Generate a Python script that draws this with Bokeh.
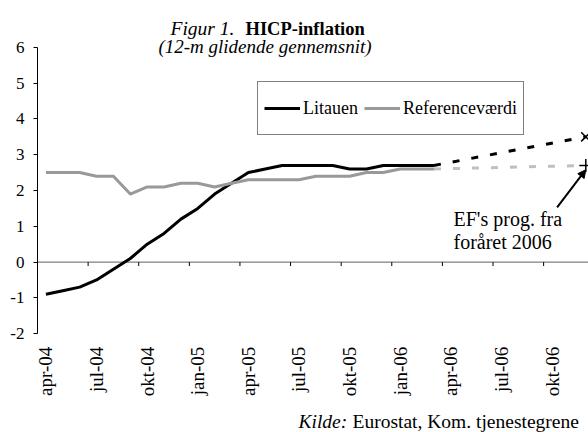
import math
from bokeh.plotting import figure
from bokeh.models import (Range1d, FixedTicker, CustomJSTickFormatter, Span, Legend,
                          LegendItem, Label, Arrow, NormalHead)
from bokeh.core.properties import value
from bokeh.embed import file_html
from bokeh.resources import INLINE

# ---------------- data ----------------
months = ["apr-04", "maj-04", "jun-04", "jul-04", "aug-04", "sep-04", "okt-04", "nov-04",
          "dec-04", "jan-05", "feb-05", "mar-05", "apr-05", "maj-05", "jun-05", "jul-05",
          "aug-05", "sep-05", "okt-05", "nov-05", "dec-05", "jan-06", "feb-06", "mar-06",
          "apr-06", "maj-06", "jun-06", "jul-06", "aug-06", "sep-06", "okt-06", "nov-06",
          "dec-06"]
litauen = [-0.9, -0.8, -0.7, -0.5, -0.2, 0.1, 0.5, 0.8, 1.2, 1.5, 1.9, 2.2, 2.5, 2.6,
           2.7, 2.7, 2.7, 2.7, 2.6, 2.6, 2.7, 2.7, 2.7, 2.7]
referencevaerdi = [2.5, 2.5, 2.5, 2.4, 2.4, 1.9, 2.1, 2.1, 2.2, 2.2, 2.1, 2.2, 2.3, 2.3,
                   2.3, 2.3, 2.4, 2.4, 2.4, 2.5, 2.5, 2.6, 2.6, 2.6]
forecast_months = ["mar-06", "dec-06"]
litauen_prognose = [2.7, 3.5]
reference_prognose = [2.6, 2.7]
y_ticks = [-2, -1, 0, 1, 2, 3, 4, 5, 6]
label_every = 3

FONT = "Liberation Serif"

idx = {m: i for i, m in enumerate(months)}
x_hist = list(range(len(litauen)))
x_fc = [idx[m] for m in forecast_months]
label_ticks = list(range(0, len(months) - 1, label_every))
label_text = [months[i] for i in label_ticks]
boundary_ticks = [t - 0.5 for t in label_ticks]
y_min, y_max = y_ticks[0], y_ticks[-1]

p = figure(width=588, height=432, x_range=Range1d(-0.5, 32.16),
           y_range=Range1d(-4.760, 7.307), x_axis_location=None,
           output_backend="svg", toolbar_location=None,
           min_border_left=37, min_border_right=0, min_border_top=0, min_border_bottom=0)
p.outline_line_color = None
p.grid.visible = False
p.background_fill_color = "white"
p.border_fill_color = "white"

# y axis
yax = p.yaxis[0]
yax.ticker = FixedTicker(ticks=y_ticks)
yax.bounds = (y_min, y_max)
yax.formatter = CustomJSTickFormatter(code="return tick.toFixed(0)")
yax.axis_line_color = "black"
yax.major_tick_line_color = "black"
yax.major_tick_out = 4
yax.major_tick_in = 0
yax.minor_tick_line_color = None
yax.major_label_standoff = 9
yax.major_label_text_font = FONT
yax.major_label_text_font_size = "17px"
yax.major_label_text_color = "black"

# horizontal zero line with tick marks between categories
p.add_layout(Span(location=0, dimension="width", line_color="#808080", line_width=1.2,
                  level="underlay"))
p.segment(x0=boundary_ticks, y0=[0] * len(boundary_ticks), x1=boundary_ticks,
          y1=[-0.11] * len(boundary_ticks), line_color="black", line_width=1)

# category labels below the plot area
p.text(x=label_ticks, y=[y_min] * len(label_ticks), text=label_text, angle=math.pi / 2,
       text_align="right", text_baseline="middle", y_offset=13,
       text_font=value(FONT), text_font_size=value("19px"), text_color="black")

# series
r_lit = p.line(x_hist, litauen, line_color="black", line_width=3, line_join="round")
r_ref = p.line(x_hist, referencevaerdi, line_color="#999999", line_width=3, line_join="round")
p.line(x_fc, reference_prognose, line_color="#c0c0c0", line_width=3, line_dash="7 12")
p.line(x_fc, litauen_prognose, line_color="black", line_width=3, line_dash="7 12")
p.scatter([x_fc[-1]], [litauen_prognose[-1]], marker="x", size=13, line_color="black",
          line_width=1.5)
p.scatter([x_fc[-1]], [reference_prognose[-1]], marker="cross", size=13, line_color="black",
          line_width=1.5)

# legend
legend = Legend(items=[LegendItem(label="Litauen", renderers=[r_lit]),
                       LegendItem(label="Referenceværdi", renderers=[r_ref])],
                orientation="horizontal", location=(220, 297), margin=0, padding=6,
                spacing=6, glyph_width=36, glyph_height=40, label_height=40,
                label_standoff=3, label_text_font=FONT, label_text_font_size="18px",
                label_text_color="black", border_line_color="black", border_line_width=1,
                background_fill_color="white", background_fill_alpha=1)
p.add_layout(legend)

# arrow + annotation for the forecast
ax_end = x_fc[-1]
ay_end = reference_prognose[-1] - 0.12
p.add_layout(Arrow(end=NormalHead(size=8, fill_color="black", line_color="black"),
                   x_start=ax_end - 1.7, y_start=ay_end - 1.05, x_end=ax_end, y_end=ay_end,
                   line_color="black", line_width=2))


def add_text(x, y, text, size, style="normal", align="left"):
    p.add_layout(Label(x=x, y=y, x_units="screen", y_units="screen", text=text,
                       text_font=FONT, text_font_size=size, text_font_style=style,
                       text_color="black", text_align=align, text_baseline="alphabetic"))


add_text(416, 213.7, "EF's prog. fra", "20px")
add_text(416, 190.3, "foråret 2006", "20px")

# titles
add_text(133, 403.7, "Figur 1.", "19.5px", "italic")
add_text(208, 403.7, "HICP-inflation", "18.5px", "bold")
add_text(227.5, 386.3, "(12-m glidende gennemsnit)", "19px", "italic", "center")

# source
add_text(261, 11, "Kilde:", "19.5px", "italic")
add_text(315, 11, "Eurostat, Kom. tjenestegrene", "19.5px")

open("out.html", "w").write(file_html(p, INLINE))
